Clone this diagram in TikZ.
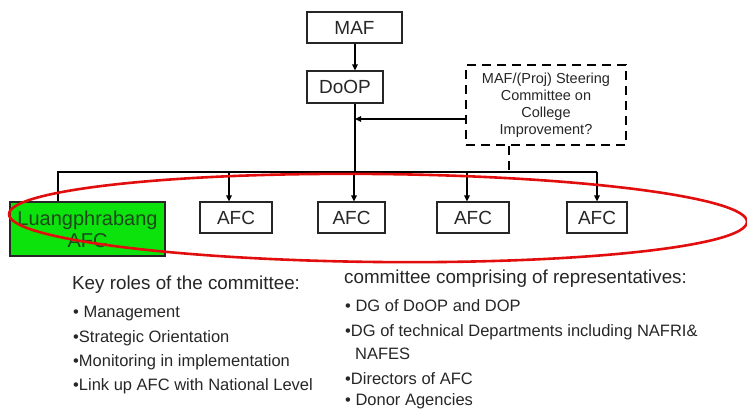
\documentclass[tikz,border=0pt]{standalone}
\usepackage{fontspec}
\setmainfont{Liberation Sans}
\usetikzlibrary{arrows.meta}
\definecolor{boxgreen}{RGB}{12,226,12}
\definecolor{darkgreen}{RGB}{28,72,28}
\definecolor{ringred}{RGB}{226,14,14}
\definecolor{ink}{RGB}{38,38,38}

\begin{document}
\begin{tikzpicture}[x=1pt,y=-1pt,
  orgbox/.style={draw=ink, line width=1.2pt, inner sep=0pt, text=ink,
    font=\fontsize{19}{22}\selectfont},
  steerbox/.style={draw=black, line width=2.2pt, dash pattern=on 9pt off 6pt,
    inner sep=0pt, align=center, text=ink, font=\fontsize{14.5}{17}\selectfont},
  link/.style={line width=1.8pt, black},
  arr/.style={link, -{Triangle[length=6pt,width=5.5pt]}},
  heading/.style={anchor=base west, inner sep=0pt, text=ink, font=\fontsize{18.8}{22}\selectfont},
  item/.style={anchor=base west, inner sep=0pt, text=ink, font=\fontsize{16.5}{20}\selectfont},
  ring/.style={draw=ringred, line width=2.6pt}
]
\path[use as bounding box] (0,0) rectangle (747,410);

% hierarchy boxes
\node[orgbox, minimum width=95pt, minimum height=31pt] (maf) at (354.5,27.5) {MAF};
\node[orgbox, minimum width=76pt, minimum height=32pt] (doop) at (345,87) {DoOP};
\node[steerbox, minimum width=160pt, minimum height=80pt] (steer) at (546,105)
  {MAF/(Proj) Steering\\Committee on\\College\\Improvement?};

\node[orgbox, fill=boxgreen, text=darkgreen, align=center, minimum width=155pt,
  minimum height=54pt, font=\fontsize{20}{22}\selectfont] (luang) at (87.5,229)
  {Luangphrabang\\AFC};
\node[orgbox, minimum width=72pt, minimum height=31pt] (afc1) at (236,217.5) {AFC};
\node[orgbox, minimum width=67pt, minimum height=31pt] (afc2) at (351.5,217.5) {AFC};
\node[orgbox, minimum width=72pt, minimum height=31pt] (afc3) at (473,217.5) {AFC};
\node[orgbox, minimum width=60pt, minimum height=31pt] (afc4) at (597,217.5) {AFC};

% connector points
\coordinate (trunk) at (355,172);
\coordinate (joinpt) at (355,119);
\coordinate (busL) at (58,172);
\coordinate (busR) at (597,172);
\coordinate (b1) at (229,172);
\coordinate (b2) at (354,172);
\coordinate (b3) at (467,172);
\coordinate (tick) at (509,172);

% connectors
\draw[arr] (maf.south -| trunk) -- (doop.north -| trunk);
\draw[link] (doop.south -| trunk) -- (trunk);
\draw[arr] (steer.west |- joinpt) -- (joinpt);
\draw[link, line width=2pt, dash pattern=on 9pt off 6pt] (steer.south -| tick) -- (tick);
\draw[link] (busL |- luang.north) -- (busL) -- (busR);
\draw[arr] (b1) -- (b1 |- afc1.north);
\draw[arr] (b2) -- (b2 |- afc2.north);
\draw[arr] (b3) -- (b3 |- afc3.north);
\draw[arr] (busR) -- (busR |- afc4.north);

% red ring round the colleges
\draw[ring, rotate around={-0.6:(378,218)}] (378,218) ellipse [x radius=369, y radius=44];

% key roles
\node[heading] (roles) at (72,289.5) {Key roles of the committee:};
\node[item] (r1) at (73,317) {• Management};
\node[item] (r2) at (73,342) {•Strategic Orientation};
\node[item] (r3) at (73,366) {•Monitoring in implementation};
\node[item] (r4) at (73,390) {•Link up AFC with National Level};

% membership
\node[heading] (members) at (344,283.5) {committee comprising of representatives:};
\node[item] (m1) at (345,311) {• DG of DoOP and DOP};
\node[item] (m2) at (345,336) {•DG of technical Departments including NAFRI\&};
\node[item] (m3) at (355,359) {NAFES};
\node[item] (m4) at (345,384) {•Directors of AFC};
\node[item] (m5) at (345,405.5) {• Donor Agencies};
\end{tikzpicture}
\end{document}
